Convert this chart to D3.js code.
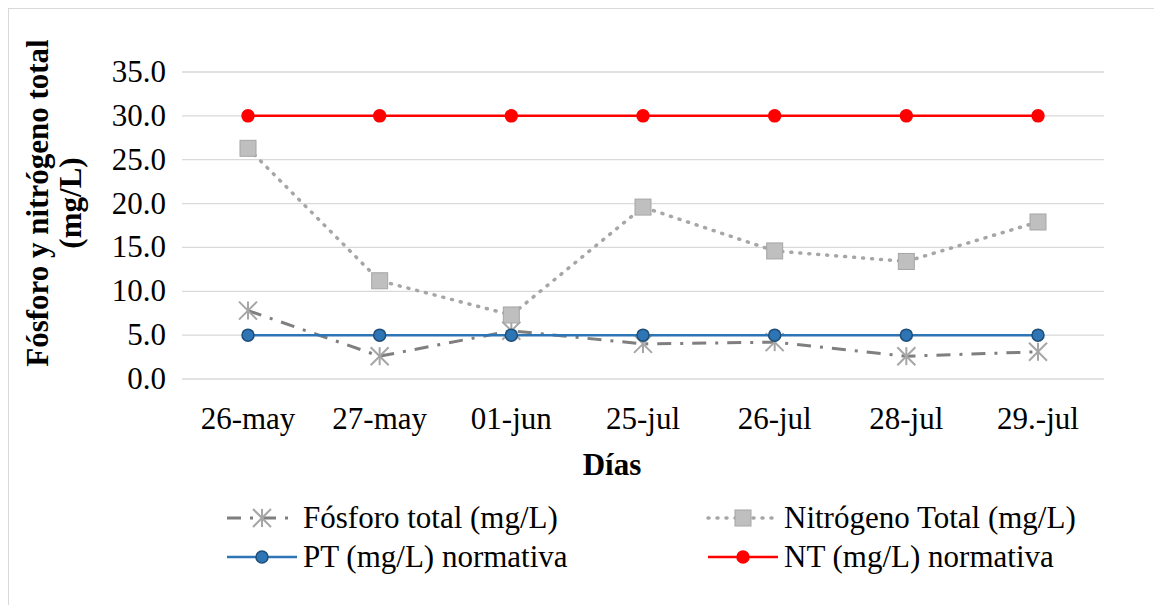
<!DOCTYPE html>
<html><head><meta charset="utf-8">
<script src="https://cdn.jsdelivr.net/npm/d3@7"></script>
<style>body{margin:0;background:#fff}text{font-family:"Liberation Serif","Times New Roman",serif}</style>
</head><body>
<div id="container"></div>
<script>
const days = ["26-may", "27-may", "01-jun", "25-jul", "26-jul", "28-jul", "29.-jul"];
const fosforo = [7.8, 2.6, 5.5, 4.0, 4.2, 2.6, 3.1];
const nitrogeno = [26.3, 11.2, 7.3, 19.6, 14.6, 13.4, 17.9];
const ptNorma = [5, 5, 5, 5, 5, 5, 5];
const ntNorma = [30, 30, 30, 30, 30, 30, 30];
const yTicks = [0, 5, 10, 15, 20, 25, 30, 35];

const W = 1154, H = 605;
const FS = 31;
const svg = d3.select("#container").append("svg").attr("width", W).attr("height", H);
svg.append("rect").attr("x", 8.5).attr("y", 8.5).attr("width", 1150).attr("height", 600)
    .attr("fill", "none").attr("stroke", "#d9d9d9");

const x = d3.scalePoint().domain(days).range([248, 1038]).padding(0);
const y = d3.scaleLinear().domain([0, 35]).range([379, 72]);

// grid
svg.selectAll("line.grid").data(yTicks).enter().append("line")
    .attr("x1", 182).attr("x2", 1104).attr("y1", d => y(d)).attr("y2", d => y(d))
    .attr("stroke", "#d9d9d9").attr("stroke-width", 1.3);

svg.selectAll("text.yt").data(yTicks).enter().append("text")
    .attr("x", 166).attr("y", d => y(d) + 10).attr("text-anchor", "end")
    .attr("font-size", FS).text(d => d.toFixed(1));

svg.selectAll("text.xt").data(days).enter().append("text")
    .attr("x", d => x(d)).attr("y", 429).attr("text-anchor", "middle")
    .attr("font-size", FS).text(d => d);

svg.append("text").attr("x", 612).attr("y", 475).attr("text-anchor", "middle")
    .attr("font-size", FS).attr("font-weight", "bold").text("Días");
svg.append("text").attr("transform", "translate(48,203) rotate(-90)").attr("text-anchor", "middle")
    .attr("font-size", FS).attr("font-weight", "bold").text("Fósforo y nitrógeno total");
svg.append("text").attr("transform", "translate(81,203) rotate(-90)").attr("text-anchor", "middle")
    .attr("font-size", FS).attr("font-weight", "bold").text("(mg/L)");

const line = d3.line().x((d, i) => x(days[i])).y(d => y(d));

const series = [
    {name: "Fósforo total (mg/L)", data: fosforo, color: "#7f7f7f", width: 3, dash: "14,9,3,9", marker: "star"},
    {name: "Nitrógeno Total (mg/L)", data: nitrogeno, color: "#a6a6a6", width: 3.5, dash: "1,8", marker: "square"},
    {name: "PT (mg/L) normativa", data: ptNorma, color: "#2e75b6", width: 2.5, dash: null, marker: "circle", fill: "#2e75b6", stroke: "#1f4e79"},
    {name: "NT (mg/L) normativa", data: ntNorma, color: "#ff0000", width: 2.5, dash: null, marker: "circle", fill: "#ff0000", stroke: "#ff0000"}
];

function drawMarker(g, s, cx, cy) {
    if (s.marker === "star") {
        const r = 9;
        [[-r, -r, r, r], [-r, r, r, -r], [0, -r, 0, r]].forEach(l =>
            g.append("line").attr("x1", cx + l[0]).attr("y1", cy + l[1]).attr("x2", cx + l[2]).attr("y2", cy + l[3])
                .attr("stroke", "#a6a6a6").attr("stroke-width", 2));
    } else if (s.marker === "square") {
        g.append("rect").attr("x", cx - 8).attr("y", cy - 8).attr("width", 16).attr("height", 16)
            .attr("fill", "#bfbfbf").attr("stroke", "#a6a6a6");
    } else {
        g.append("circle").attr("cx", cx).attr("cy", cy).attr("r", 6)
            .attr("fill", s.fill).attr("stroke", s.stroke).attr("stroke-width", 1.5);
    }
}

series.forEach(s => {
    svg.append("path").attr("d", line(s.data)).attr("fill", "none")
        .attr("stroke", s.color).attr("stroke-width", s.width)
        .attr("stroke-dasharray", s.dash).attr("stroke-linecap", s.marker === "square" ? "round" : "butt");
    const g = svg.append("g");
    s.data.forEach((v, i) => drawMarker(g, s, x(days[i]), y(v)));
});

// legend
const legPos = [[227, 518], [708, 518], [227, 557], [708, 557]];
series.forEach((s, i) => {
    const [lx, ly] = legPos[i];
    svg.append("line").attr("x1", lx).attr("x2", lx + 70).attr("y1", ly).attr("y2", ly)
        .attr("stroke", s.color).attr("stroke-width", s.width).attr("stroke-dasharray", s.dash)
        .attr("stroke-linecap", s.marker === "square" ? "round" : "butt");
    drawMarker(svg.append("g"), s, lx + 35, ly);
    svg.append("text").attr("x", lx + 76).attr("y", ly + 10).attr("font-size", FS).text(s.name);
});
</script>
</body></html>
